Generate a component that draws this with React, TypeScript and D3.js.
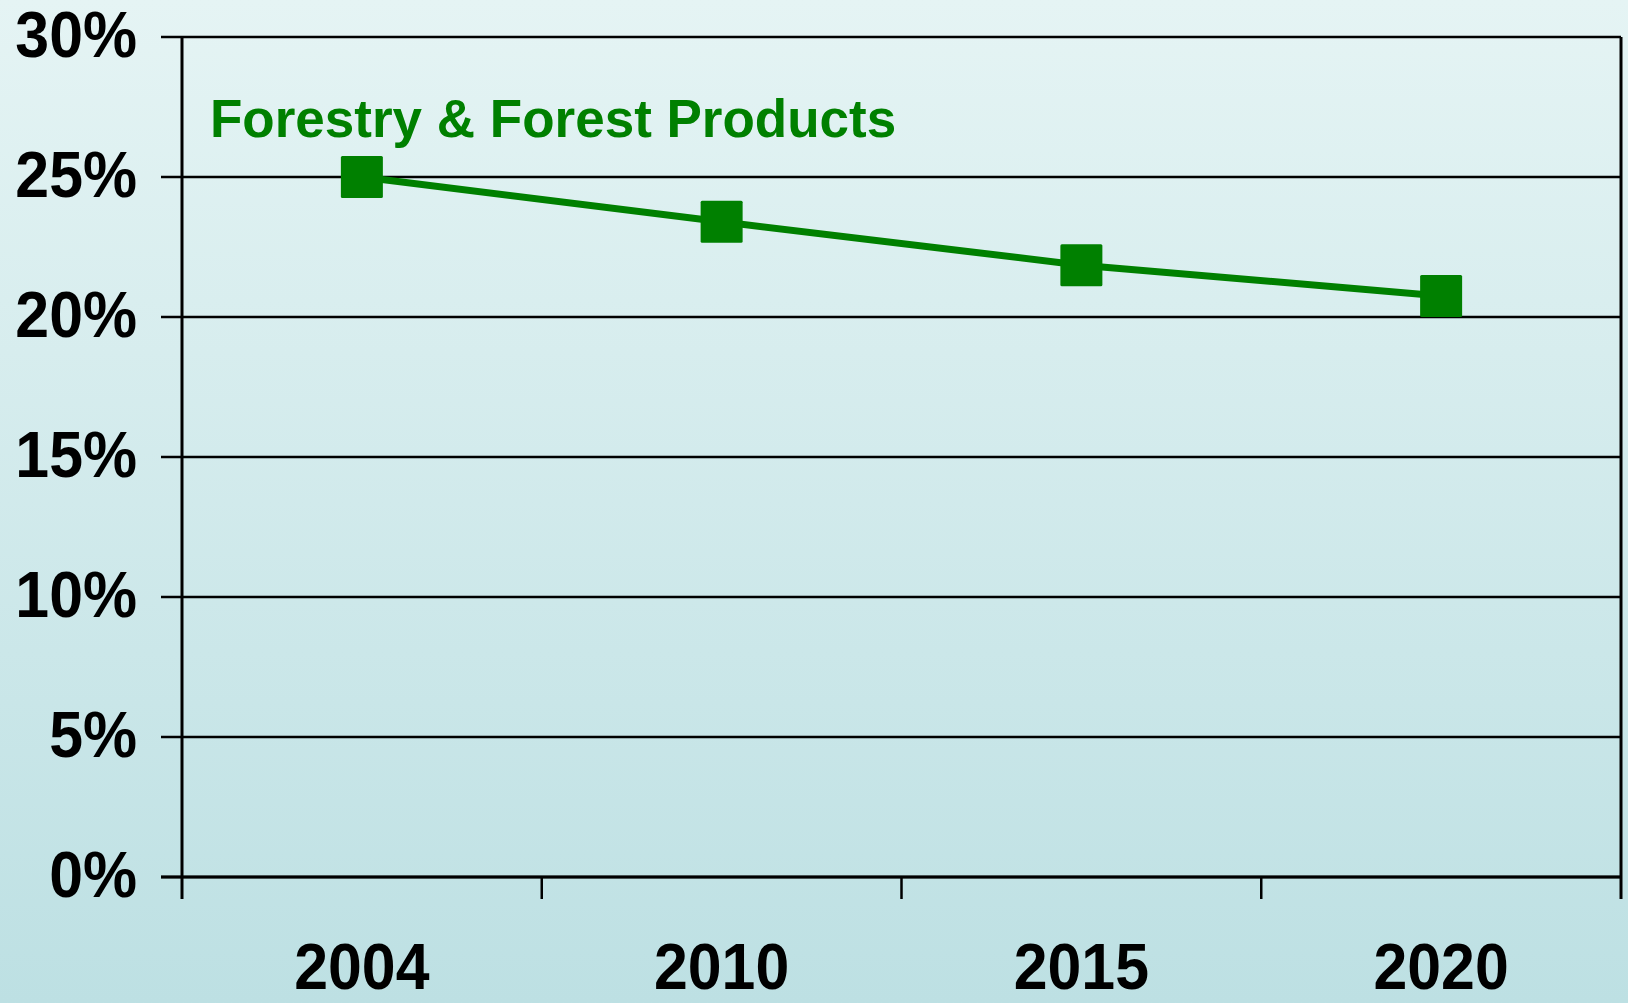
import React, { useEffect, useRef } from 'react'
import * as d3 from 'd3'

const years = ['2004', '2010', '2015', '2020']
const shares = [25.0, 23.4, 21.85, 20.75]
const yTicks = [0, 5, 10, 15, 20, 25, 30]
const seriesName = 'Forestry & Forest Products'

export default function App() {
    const ref = useRef<SVGSVGElement | null>(null)

    const width = 1628
    const height = 1003
    const left = 182
    const right = 1621
    const top = 37
    const bottom = 877

    function drawChart() {
        document.body.style.margin = '0'
        var svg = d3.select(ref.current)
        svg.selectAll('*').remove()
        svg.attr('width', width).attr('height', height)

        var defs = svg.append('defs')
        var grad = defs.append('linearGradient')
            .attr('id', 'bg')
            .attr('x1', 0).attr('y1', 0).attr('x2', 0).attr('y2', 1)
        grad.append('stop').attr('offset', '0%').attr('stop-color', '#e5f4f4')
        grad.append('stop').attr('offset', '100%').attr('stop-color', '#bde0e3')

        svg.append('rect')
            .attr('width', width).attr('height', height)
            .attr('fill', 'url(#bg)')

        var x = d3.scaleBand().domain(years).range([left, right])
        var y = d3.scaleLinear().domain([0, 30]).range([bottom, top])

        var font = '"Liberation Sans", Arial, sans-serif'
        var sx = 0.95

        // horizontal gridlines + y ticks
        var g = svg.append('g')
        g.selectAll('line.grid')
            .data(yTicks)
            .enter().append('line')
            .attr('class', 'grid')
            .attr('x1', left - 21)
            .attr('x2', right)
            .attr('y1', d => y(d))
            .attr('y2', d => y(d))
            .attr('stroke', '#000')
            .attr('stroke-width', 2.5)

        g.selectAll('text.ylab')
            .data(yTicks)
            .enter().append('text')
            .attr('class', 'ylab')
            .attr('transform', d => 'translate(137,' + (y(d) + 20) + ') scale(' + sx + ',1)')
            .attr('text-anchor', 'end')
            .attr('font-family', font)
            .attr('font-weight', 'bold')
            .attr('font-size', 64)
            .attr('fill', '#000')
            .text(d => d + '%')

        // axis lines
        g.append('line')
            .attr('x1', left).attr('x2', left)
            .attr('y1', top).attr('y2', bottom + 22)
            .attr('stroke', '#000').attr('stroke-width', 3)
        g.append('line')
            .attr('x1', right).attr('x2', right)
            .attr('y1', top).attr('y2', bottom + 22)
            .attr('stroke', '#000').attr('stroke-width', 3)
        g.append('line')
            .attr('x1', left - 21).attr('x2', right)
            .attr('y1', bottom).attr('y2', bottom)
            .attr('stroke', '#000').attr('stroke-width', 3)

        // x ticks at band edges
        var edges = years.slice(1).map(d => x(d) as number)
        g.selectAll('line.xtick')
            .data(edges)
            .enter().append('line')
            .attr('class', 'xtick')
            .attr('x1', d => d).attr('x2', d => d)
            .attr('y1', bottom).attr('y2', bottom + 22)
            .attr('stroke', '#000').attr('stroke-width', 2.5)

        g.selectAll('text.xlab')
            .data(years)
            .enter().append('text')
            .attr('class', 'xlab')
            .attr('transform', d => 'translate(' + ((x(d) as number) + x.bandwidth() / 2) + ',989) scale(' + sx + ',1)')
            .attr('text-anchor', 'middle')
            .attr('font-family', font)
            .attr('font-weight', 'bold')
            .attr('font-size', 64)
            .attr('fill', '#000')
            .text(d => d)

        // series
        var pts = years.map((d, i) => [(x(d) as number) + x.bandwidth() / 2, y(shares[i])] as [number, number])
        g.append('path')
            .attr('d', d3.line()(pts))
            .attr('fill', 'none')
            .attr('stroke', '#008000')
            .attr('stroke-width', 7)

        var sz = 42
        g.selectAll('rect.mark')
            .data(pts)
            .enter().append('rect')
            .attr('class', 'mark')
            .attr('x', d => d[0] - sz / 2)
            .attr('y', d => d[1] - sz / 2)
            .attr('width', sz)
            .attr('height', sz)
            .attr('rx', 1.5)
            .attr('fill', '#008000')

        g.append('text')
            .attr('x', 210)
            .attr('y', 137)
            .attr('font-family', font)
            .attr('font-weight', 'bold')
            .attr('font-size', 53)
            .attr('fill', '#008000')
            .text(seriesName)
    }

    useEffect(() => {
        drawChart()
    }, [])

    return (
        <div>
            <svg ref={ref} style={{ display: 'block' }} />
        </div>
    )
}
